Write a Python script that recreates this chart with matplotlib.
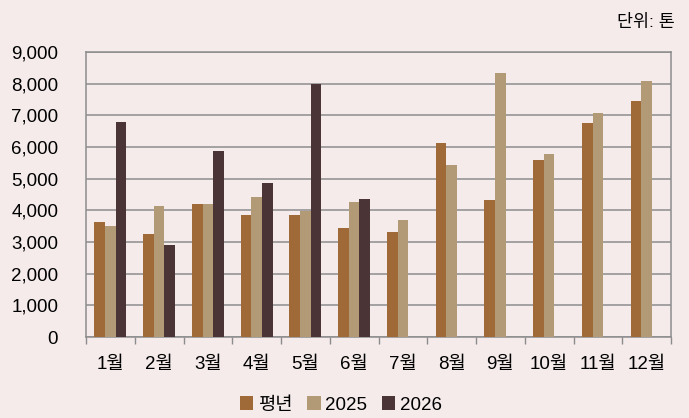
import numpy as np
import matplotlib
matplotlib.use("Agg")
import matplotlib.pyplot as plt

plt.rcParams['font.family'] = ['Liberation Sans', 'Noto Sans CJK KR', 'DejaVu Sans']

months = ['1월', '2월', '3월', '4월', '5월', '6월', '7월', '8월', '9월', '10월', '11월', '12월']
normal = [3630, 3240, 4210, 3860, 3850, 3440, 3320, 6120, 4340, 5600, 6750, 7440]
y2025 = [3500, 4140, 4210, 4430, 3990, 4260, 3680, 5430, 8340, 5790, 7080, 8090]
y2026 = [6790, 2920, 5860, 4870, 8000, 4350]
series_names = ['평년', '2025', '2026']
colors = ['#A06A38', '#B39A77', '#4A3436']
bg = '#F5EBEB'

fig = plt.figure(figsize=(6.89, 4.18), dpi=100, facecolor=bg)
ax = fig.add_axes([86 / 689, 1 - 337 / 418, 585 / 689, 285 / 418], facecolor=bg)

x = np.arange(len(months))
w = 0.22
ax.bar(x - w, normal, w, color=colors[0], label=series_names[0], zorder=3)
ax.bar(x, y2025, w, color=colors[1], label=series_names[1], zorder=3)
ax.bar(np.arange(len(y2026)) + w, y2026, w, color=colors[2], label=series_names[2], zorder=3)

ax.set_xlim(-0.5, len(months) - 0.5)
ax.set_ylim(0, 9000)
ax.set_yticks(np.arange(0, 9001, 1000))
ax.set_yticklabels([f'{v:,}' for v in range(0, 9001, 1000)], fontsize=13.5)
ax.yaxis.grid(True, color='#8C8C8C', linewidth=1.1, zorder=0)
ax.tick_params(axis='y', length=0, pad=20)

ax.set_xticks(x)
ax.set_xticklabels(months, fontsize=13.5)
ax.set_xticks(np.arange(-0.5, len(months)), minor=True)
ax.tick_params(axis='x', which='major', length=0, pad=14)
ax.tick_params(axis='x', which='minor', length=5, color='#8C8C8C', width=1)

for s in ax.spines.values():
    s.set_color('#8C8C8C')
    s.set_linewidth(1.1)

fig.text(675 / 689, 1 - 22 / 418, '단위: 톤', ha='right', va='center', fontsize=12.5)

fig.legend(loc='center', bbox_to_anchor=(0.495, 1 - 405 / 418), ncol=3, frameon=False,
           fontsize=13.5, handlelength=0.7, handleheight=0.7, handletextpad=0.25,
           columnspacing=0.8)

fig.savefig('out.png', dpi=100, facecolor=bg)
